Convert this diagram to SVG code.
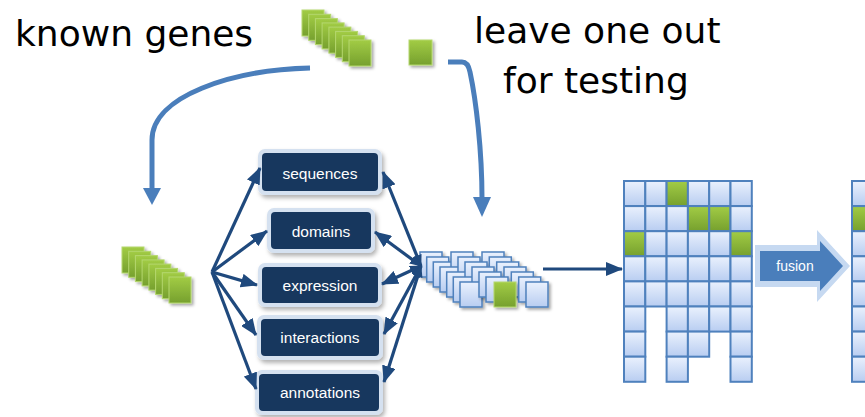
<svg xmlns="http://www.w3.org/2000/svg" width="865" height="417" viewBox="0 0 865 417">
<defs>
  <linearGradient id="gGreen" x1="0" y1="0" x2="0" y2="1">
    <stop offset="0" stop-color="#a2cc45"/>
    <stop offset="1" stop-color="#76a02e"/>
  </linearGradient>
  <linearGradient id="gBlue" x1="0" y1="0" x2="0" y2="1">
    <stop offset="0" stop-color="#eaf1fd"/>
    <stop offset="1" stop-color="#b8cdf1"/>
  </linearGradient>
  <filter id="sh" x="-30%" y="-30%" width="170%" height="170%">
    <feDropShadow dx="2" dy="2" stdDeviation="1.5" flood-color="#000" flood-opacity="0.35"/>
  </filter>
  <filter id="shBox" x="-20%" y="-30%" width="140%" height="170%">
    <feDropShadow dx="2" dy="3" stdDeviation="2" flood-color="#000" flood-opacity="0.3"/>
  </filter>
  <marker id="ah" markerUnits="userSpaceOnUse" markerWidth="17" markerHeight="14" refX="16" refY="7" orient="auto-start-reverse">
    <path d="M0,0 L17,7 L0,14 z" fill="#1f497d"/>
  </marker>
  <marker id="ahs" markerUnits="userSpaceOnUse" markerWidth="12" markerHeight="10" refX="11" refY="5" orient="auto-start-reverse">
    <path d="M0,0 L12,5 L0,10 z" fill="#1f497d"/>
  </marker>
  <style>
    .big { font-family: "DejaVu Sans", Verdana, sans-serif; font-size: 36px; fill: #000; }
    .lbl { font-family: "Liberation Sans", Arial, sans-serif; font-size: 15.5px; fill: #fff; text-anchor: middle; }
    .gsq { fill: url(#gGreen); stroke: #b5d86f; stroke-width: 1; filter: url(#sh); }
    .card { fill: url(#gBlue); stroke: #4f81bd; stroke-width: 1.5; filter: url(#sh); }
    .cell { fill: url(#gBlue); stroke: #4f81bd; stroke-width: 2; }
    .gcell { fill: url(#gGreen); stroke: #4f81bd; stroke-width: 2; }
    .boxo { fill: #d5e1f0; filter: url(#shBox); }
    .boxi { fill: #17375e; }
    .fan { stroke: #1f497d; stroke-width: 3.2; fill: none; }
    .curve { stroke: #4a7ebb; stroke-width: 5; fill: none; }
  </style>
</defs>
<rect width="865" height="417" fill="#fff"/>

<g id="text-known-genes"><text class="big" x="15" y="46">known genes</text></g>
<g id="text-leave-out">
  <text class="big" x="474" y="43">leave one out</text>
  <text class="big" x="503" y="93">for testing</text>
</g>

<g id="known-genes-stack">
  <rect class="gsq" x="302" y="10" width="22" height="26"/>
  <rect class="gsq" x="308.7" y="14.3" width="22" height="26"/>
  <rect class="gsq" x="315.4" y="18.6" width="22" height="26"/>
  <rect class="gsq" x="322.1" y="22.9" width="22" height="26"/>
  <rect class="gsq" x="328.9" y="27.1" width="22" height="26"/>
  <rect class="gsq" x="335.6" y="31.4" width="22" height="26"/>
  <rect class="gsq" x="342.3" y="35.7" width="22" height="26"/>
  <rect class="gsq" x="349" y="40" width="22" height="26"/>
</g>
<g id="test-gene">
  <rect class="gsq" x="409" y="40" width="23" height="25"/>
</g>

<g id="training-stack">
  <rect class="gsq" x="122" y="247" width="22" height="26"/>
  <rect class="gsq" x="128.7" y="251.3" width="22" height="26"/>
  <rect class="gsq" x="135.4" y="255.6" width="22" height="26"/>
  <rect class="gsq" x="142.1" y="259.9" width="22" height="26"/>
  <rect class="gsq" x="148.9" y="264.1" width="22" height="26"/>
  <rect class="gsq" x="155.6" y="268.4" width="22" height="26"/>
  <rect class="gsq" x="162.3" y="272.7" width="22" height="26"/>
  <rect class="gsq" x="169" y="277" width="22" height="26"/>
</g>

<g id="box-sequences">
  <rect class="boxo" x="258" y="149" width="124" height="46" rx="7"/>
  <rect class="boxi" x="262" y="153" width="116" height="38" rx="4"/>
  <text class="lbl" x="320" y="178.5">sequences</text>
</g>
<g id="box-domains">
  <rect class="boxo" x="267" y="208" width="108" height="45" rx="7"/>
  <rect class="boxi" x="271" y="212" width="100" height="37" rx="4"/>
  <text class="lbl" x="321" y="237">domains</text>
</g>
<g id="box-expression">
  <rect class="boxo" x="258" y="263" width="124" height="44" rx="7"/>
  <rect class="boxi" x="262" y="267" width="116" height="36" rx="4"/>
  <text class="lbl" x="320" y="290.5">expression</text>
</g>
<g id="box-interactions">
  <rect class="boxo" x="257" y="315" width="126" height="45" rx="7"/>
  <rect class="boxi" x="261" y="319" width="118" height="37" rx="4"/>
  <text class="lbl" x="320" y="343">interactions</text>
</g>
<g id="box-annotations">
  <rect class="boxo" x="255" y="370" width="128" height="45" rx="7"/>
  <rect class="boxi" x="259" y="374" width="120" height="37" rx="4"/>
  <text class="lbl" x="320" y="398">annotations</text>
</g>

<g id="feature-cube">
  <rect class="card" x="420" y="252" width="22" height="25"/>
  <rect class="card" x="426.7" y="257" width="22" height="25"/>
  <rect class="card" x="433.3" y="262" width="22" height="25"/>
  <rect class="card" x="451" y="252" width="22" height="25"/>
  <rect class="card" x="440" y="267" width="22" height="25"/>
  <rect class="card" x="458" y="257" width="22" height="25"/>
  <rect class="card" x="482" y="252" width="22" height="25"/>
  <rect class="card" x="446.7" y="272" width="22" height="25"/>
  <rect class="card" x="465" y="262" width="22" height="25"/>
  <rect class="card" x="489.3" y="257" width="22" height="25"/>
  <rect class="card" x="453.3" y="277" width="22" height="25"/>
  <rect class="card" x="472" y="267" width="22" height="25"/>
  <rect class="card" x="496.7" y="262" width="22" height="25"/>
  <rect class="card" x="460" y="282" width="22" height="25"/>
  <rect class="card" x="479" y="272" width="22" height="25"/>
  <rect class="card" x="504" y="267" width="22" height="25"/>
  <rect class="card" x="486" y="277" width="22" height="25"/>
  <rect class="card" x="511.3" y="272" width="22" height="25"/>
  <rect class="gsq" x="494" y="282" width="22" height="25"/>
  <rect class="card" x="518.7" y="277" width="22" height="25"/>
  <rect class="card" x="526" y="282" width="22" height="25"/>
</g>

<g id="score-grid">
  <rect class="cell" x="624" y="181" width="21.3" height="25.1"/>
  <rect class="cell" x="624" y="206.1" width="21.3" height="25.1"/>
  <rect class="gcell" x="624" y="231.2" width="21.3" height="25.1"/>
  <rect class="cell" x="624" y="256.3" width="21.3" height="25.1"/>
  <rect class="cell" x="624" y="281.4" width="21.3" height="25.1"/>
  <rect class="cell" x="624" y="306.5" width="21.3" height="25.1"/>
  <rect class="cell" x="624" y="331.6" width="21.3" height="25.1"/>
  <rect class="cell" x="624" y="356.7" width="21.3" height="25.1"/>

  <rect class="cell" x="645.3" y="181" width="21.3" height="25.1"/>
  <rect class="cell" x="645.3" y="206.1" width="21.3" height="25.1"/>
  <rect class="cell" x="645.3" y="231.2" width="21.3" height="25.1"/>
  <rect class="cell" x="645.3" y="256.3" width="21.3" height="25.1"/>
  <rect class="cell" x="645.3" y="281.4" width="21.3" height="25.1"/>

  <rect class="gcell" x="666.6" y="181" width="21.3" height="25.1"/>
  <rect class="cell" x="666.6" y="206.1" width="21.3" height="25.1"/>
  <rect class="cell" x="666.6" y="231.2" width="21.3" height="25.1"/>
  <rect class="cell" x="666.6" y="256.3" width="21.3" height="25.1"/>
  <rect class="cell" x="666.6" y="281.4" width="21.3" height="25.1"/>
  <rect class="cell" x="666.6" y="306.5" width="21.3" height="25.1"/>
  <rect class="cell" x="666.6" y="331.6" width="21.3" height="25.1"/>
  <rect class="cell" x="666.6" y="356.7" width="21.3" height="25.1"/>

  <rect class="cell" x="687.9" y="181" width="21.3" height="25.1"/>
  <rect class="gcell" x="687.9" y="206.1" width="21.3" height="25.1"/>
  <rect class="cell" x="687.9" y="231.2" width="21.3" height="25.1"/>
  <rect class="cell" x="687.9" y="256.3" width="21.3" height="25.1"/>
  <rect class="cell" x="687.9" y="281.4" width="21.3" height="25.1"/>
  <rect class="cell" x="687.9" y="306.5" width="21.3" height="25.1"/>
  <rect class="cell" x="687.9" y="331.6" width="21.3" height="25.1"/>

  <rect class="cell" x="709.2" y="181" width="21.3" height="25.1"/>
  <rect class="gcell" x="709.2" y="206.1" width="21.3" height="25.1"/>
  <rect class="cell" x="709.2" y="231.2" width="21.3" height="25.1"/>
  <rect class="cell" x="709.2" y="256.3" width="21.3" height="25.1"/>
  <rect class="cell" x="709.2" y="281.4" width="21.3" height="25.1"/>
  <rect class="cell" x="709.2" y="306.5" width="21.3" height="25.1"/>

  <rect class="cell" x="730.5" y="181" width="21.3" height="25.1"/>
  <rect class="cell" x="730.5" y="206.1" width="21.3" height="25.1"/>
  <rect class="gcell" x="730.5" y="231.2" width="21.3" height="25.1"/>
  <rect class="cell" x="730.5" y="256.3" width="21.3" height="25.1"/>
  <rect class="cell" x="730.5" y="281.4" width="21.3" height="25.1"/>
  <rect class="cell" x="730.5" y="306.5" width="21.3" height="25.1"/>
  <rect class="cell" x="730.5" y="331.6" width="21.3" height="25.1"/>
  <rect class="cell" x="730.5" y="356.7" width="21.3" height="25.1"/>
</g>

<g id="fused-grid">
  <rect class="cell" x="852" y="181" width="21.3" height="25.1"/>
  <rect class="gcell" x="852" y="206.1" width="21.3" height="25.1"/>
  <rect class="cell" x="852" y="231.2" width="21.3" height="25.1"/>
  <rect class="cell" x="852" y="256.3" width="21.3" height="25.1"/>
  <rect class="cell" x="852" y="281.4" width="21.3" height="25.1"/>
  <rect class="cell" x="852" y="306.5" width="21.3" height="25.1"/>
  <rect class="cell" x="852" y="331.6" width="21.3" height="25.1"/>
  <rect class="cell" x="852" y="356.7" width="21.3" height="25.1"/>
</g>

<g id="fusion-arrow">
  <polygon points="755,245 817,245 817,230 850,266 817,302 817,287 755,287" fill="#c6d9f1"/>
  <polygon points="760,251 820,251 820,241 843,266 820,291 820,281 760,281" fill="#4a7ebb"/>
  <text x="795" y="271" font-family="Liberation Sans, Arial, sans-serif" font-size="14" fill="#fff" text-anchor="middle">fusion</text>
</g>

<g id="connectors">
  <path class="curve" d="M310,68 C232,70 152,96 152,140 L152,190"/>
  <polygon points="143,188 161,188 152,205" fill="#4a7ebb"/>
  <path class="curve" d="M448,62 L462,62 Q468,62 470,72 C476,100 482,150 482,199"/>
  <polygon points="473,197 491,197 482,217" fill="#4a7ebb"/>

  <line class="fan" x1="212" y1="272" x2="260" y2="168" marker-end="url(#ah)"/>
  <line class="fan" x1="212" y1="272" x2="267" y2="231" marker-end="url(#ah)"/>
  <line class="fan" x1="212" y1="272" x2="257" y2="285" marker-end="url(#ah)"/>
  <line class="fan" x1="212" y1="272" x2="256" y2="335" marker-end="url(#ah)"/>
  <line class="fan" x1="212" y1="272" x2="256" y2="389" marker-end="url(#ah)"/>

  <line class="fan" x1="421" y1="266" x2="383" y2="172" marker-start="url(#ahs)" marker-end="url(#ah)"/>
  <line class="fan" x1="421" y1="266" x2="375" y2="232" marker-start="url(#ahs)" marker-end="url(#ah)"/>
  <line class="fan" x1="421" y1="266" x2="382" y2="284" marker-start="url(#ahs)" marker-end="url(#ah)"/>
  <line class="fan" x1="421" y1="266" x2="384" y2="334" marker-start="url(#ahs)" marker-end="url(#ah)"/>
  <line class="fan" x1="421" y1="266" x2="384" y2="382" marker-start="url(#ahs)" marker-end="url(#ah)"/>

  <line class="fan" x1="543" y1="269" x2="622" y2="269" marker-end="url(#ah)"/>
</g>
</svg>
